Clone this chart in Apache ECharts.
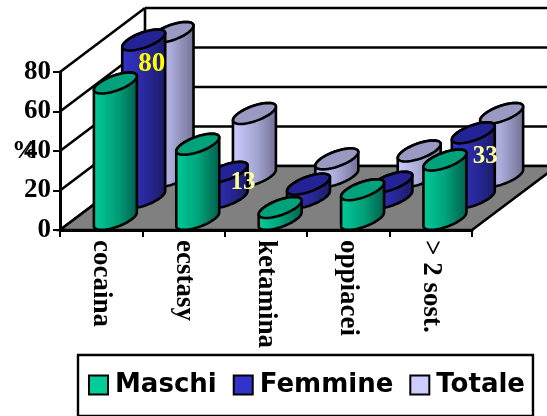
<!DOCTYPE html>
<html>
<head>
<meta charset="utf-8">
<style>
  html, body { margin: 0; padding: 0; background: #fff; }
  #chart { width: 547px; height: 416px; }
</style>
<script src="https://cdn.jsdelivr.net/npm/echarts@6/dist/echarts.min.js"></script>
</head>
<body>
<div id="chart"></div>
<script>
var categories = ['cocaina', 'ecstasy', 'ketamina', 'oppiacei', '> 2 sost.'];
var maschi = [69, 38, 6, 15, 30];
var femmine = [80, 13, 7, 8, 33];
var totale = [73, 32, 9, 13, 32];
var yTicks = [0, 20, 40, 60, 80];
var femmineLabels = ['80', '13', '', '', '33'];

// oblique projection of the floor
var DEPTH_X = 85;
var DEPTH_Y = -64;
var SERIES_COUNT = 3;
// half axes of the skewed circle
var ELL_UX = 16.3;
var ELL_VX = 14;
var ELL_VY = 10.5;

var LINE_W = 2.6;
var serif = '"Liberation Serif", serif';

var chart = echarts.init(document.getElementById('chart'));

function bandedGradient(stops) {
  var n = 22;
  var colorStops = [];
  for (var k = 0; k < n; k++) {
    var c = echarts.color.lerp((k + 0.5) / n, stops);
    colorStops.push({ offset: k / n, color: c });
    colorStops.push({ offset: (k + 1) / n, color: c });
  }
  return new echarts.graphic.LinearGradient(0, 0, 1, 0, colorStops);
}

function ellipsePoints(cx, cy, from, to) {
  var pts = [];
  var steps = 40;
  for (var k = 0; k <= steps; k++) {
    var t = from + (to - from) * k / steps;
    pts.push([
      cx + Math.cos(t) * ELL_UX + Math.sin(t) * ELL_VX,
      cy - Math.sin(t) * ELL_VY
    ]);
  }
  return pts;
}

function cylinderItem(depthIndex, body, topColor, labels, labelOffsets) {
  return function (params, api) {
    var cat = api.value(0);
    var val = api.value(1);
    var base = api.coord([cat, 0]);
    var top = api.coord([cat, val]);
    var f = (depthIndex + 0.5) / SERIES_COUNT;
    var cx = base[0] + DEPTH_X * f;
    var by = base[1] + DEPTH_Y * f;
    var ty = top[1] + DEPTH_Y * f;

    // angle of the rightmost point of the skewed circle
    var tr = Math.atan2(ELL_VX, ELL_UX);
    var bodyPts = ellipsePoints(cx, ty, tr + Math.PI, tr).concat(ellipsePoints(cx, by, tr, tr - Math.PI));
    var topPts = ellipsePoints(cx, ty, 0, Math.PI * 2);

    var children = [
      {
        type: 'polygon',
        shape: { points: bodyPts },
        style: { fill: body, stroke: '#000', lineWidth: LINE_W, lineJoin: 'round' }
      },
      {
        type: 'polygon',
        shape: { points: topPts },
        style: { fill: topColor, stroke: '#000', lineWidth: LINE_W }
      }
    ];
    if (labels && labels[cat]) {
      var off = labelOffsets[cat];
      children.push({
        type: 'text',
        style: {
          x: cx + off[0],
          y: ty + off[1],
          text: labels[cat],
          fill: off[2],
          font: 'bold ' + off[3] + 'px ' + serif,
          align: 'center',
          verticalAlign: 'middle'
        }
      });
    }
    return { type: 'group', children: children };
  };
}

function wallItem(params, api) {
  var y = api.coord([0, api.value(0)])[1];
  var left = params.coordSys.x;
  var right = left + params.coordSys.width;
  var lineStyle = { stroke: '#000', lineWidth: LINE_W, fill: null };
  return {
    type: 'group',
    children: [
      { type: 'line', shape: { x1: left, y1: y, x2: left + DEPTH_X, y2: y + DEPTH_Y }, style: lineStyle },
      { type: 'line', shape: { x1: left + DEPTH_X, y1: y + DEPTH_Y, x2: right + DEPTH_X, y2: y + DEPTH_Y }, style: lineStyle }
    ]
  };
}

function floorItem(params, api) {
  var y0 = api.coord([0, 0])[1];
  var yTop = api.coord([0, yTicks[yTicks.length - 1]])[1];
  var left = params.coordSys.x;
  var right = left + params.coordSys.width;
  return {
    type: 'group',
    children: [
      {
        type: 'polygon',
        shape: { points: [[left, y0], [right, y0], [right + DEPTH_X, y0 + DEPTH_Y], [left + DEPTH_X, y0 + DEPTH_Y]] },
        style: { fill: '#808080', stroke: '#000', lineWidth: LINE_W }
      },
      {
        type: 'line',
        shape: { x1: left + DEPTH_X, y1: y0 + DEPTH_Y, x2: left + DEPTH_X, y2: yTop + DEPTH_Y },
        style: { stroke: '#000', lineWidth: LINE_W }
      }
    ]
  };
}

function pairs(values) {
  return values.map(function (v, i) { return [i, v]; });
}

var femmineLabelOffsets = [
  [8, 24, '#ffff00', 27],
  [17, 10, '#ffff99', 25],
  null,
  null,
  [12, 24, '#ffff99', 25]
];

chart.setOption({
  animation: false,
  backgroundColor: '#fff',
  grid: { left: 60, top: 72, width: 412, height: 158, containLabel: false, outerBoundsMode: 'none' },
  legend: {
    data: ['Maschi', 'Femmine', 'Totale'],
    icon: 'rect',
    left: 78,
    top: 355,
    padding: [17, 8, 18, 10],
    itemGap: 16,
    itemWidth: 19,
    itemHeight: 19,
    borderColor: '#000',
    borderWidth: 2.4,
    backgroundColor: '#fff',
    textStyle: {
      fontFamily: '"DejaVu Sans"',
      fontWeight: 'bold',
      fontSize: 26,
      color: '#000',
      padding: [0, 0, 0, 2]
    }
  },
  xAxis: {
    type: 'category',
    data: categories,
    axisLine: { lineStyle: { color: '#000', width: 3 } },
    axisTick: { show: true, length: 7, lineStyle: { color: '#000', width: 2 } },
    axisLabel: {
      rotate: -90,
      margin: 10,
      interval: 0,
      color: '#000',
      fontFamily: serif,
      fontWeight: 'bold',
      fontSize: 27,
      padding: [0, 0, 16, 0]
    }
  },
  yAxis: {
    type: 'value',
    min: 0,
    max: 80,
    interval: 20,
    name: '%',
    nameLocation: 'middle',
    nameRotate: 0,
    nameGap: 22,
    nameMoveOverlap: false,
    nameTextStyle: { color: '#000', fontFamily: serif, fontWeight: 'bold', fontSize: 26, padding: [0, 0, 10, 0] },
    axisLine: { show: true, lineStyle: { color: '#000', width: 3 } },
    axisTick: { show: true, length: 7, lineStyle: { color: '#000', width: 2 } },
    axisLabel: { margin: 9, color: '#000', fontFamily: serif, fontWeight: 'bold', fontSize: 27, padding: [3, 0, 0, 0] },
    splitLine: { show: false }
  },
  series: [
    {
      type: 'custom',
      z: 1,
      silent: true,
      data: yTicks.map(function (v) { return [v]; }),
      renderItem: wallItem
    },
    {
      type: 'custom',
      z: 2,
      silent: true,
      data: [[0]],
      renderItem: floorItem
    },
    {
      name: 'Totale',
      type: 'custom',
      z: 3,
      itemStyle: { color: '#ccccff', borderColor: '#000', borderWidth: 2 },
      data: pairs(totale),
      renderItem: cylinderItem(2, bandedGradient(['#ccccff', '#a9a9d8', '#6f6f92']), '#9999c2')
    },
    {
      name: 'Femmine',
      type: 'custom',
      z: 4,
      itemStyle: { color: '#3333cc', borderColor: '#000', borderWidth: 2 },
      data: pairs(femmine),
      renderItem: cylinderItem(1, bandedGradient(['#3333cc', '#2a2aa0', '#1a1a66']), '#232396', femmineLabels, femmineLabelOffsets)
    },
    {
      name: 'Maschi',
      type: 'custom',
      z: 5,
      itemStyle: { color: '#00cc99', borderColor: '#000', borderWidth: 2 },
      data: pairs(maschi),
      renderItem: cylinderItem(0, bandedGradient(['#00cc99', '#00a37c', '#005f4b']), '#00a27c')
    }
  ]
});
</script>
</body>
</html>
